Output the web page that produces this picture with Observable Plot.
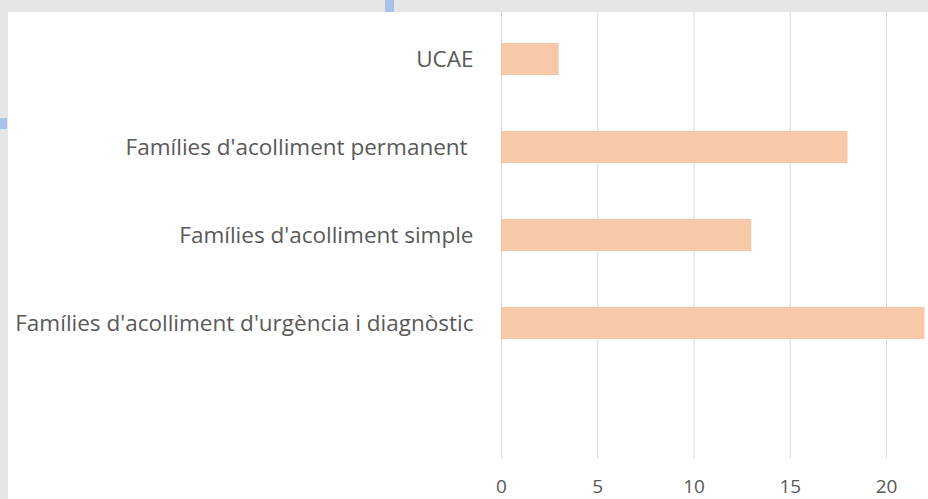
<!DOCTYPE html>
<html>
<head>
<meta charset="utf-8">
<script src="https://cdn.jsdelivr.net/npm/d3@7"></script>
<script src="https://cdn.jsdelivr.net/npm/@observablehq/plot@0.6"></script>
<style>
  html, body { margin: 0; padding: 0; }
  #page { position: relative; width: 928px; height: 499px; background: #e6e6e6; overflow: hidden; }
  #card { position: absolute; left: 8px; top: 12px; width: 920px; height: 487px; background: #fff; }
  #card svg { display: block; background: #fff; }
  #card svg g[aria-label="y-axis tick label"] { font-size: 22.5px; }
  #card svg g[aria-label="x-axis tick label"] { font-size: 19px; }
  .tab { position: absolute; background: #a9c1e8; }
</style>
</head>
<body>
<div id="page">
  <div class="tab" style="left:385px;top:0;width:9px;height:12px"></div>
  <div class="tab" style="left:0;top:118px;width:7px;height:11px"></div>
  <div id="card"></div>
</div>
<script>
const categories = [
  "UCAE",
  "Famílies d'acolliment permanent\u00a0",
  "Famílies d'acolliment simple",
  "Famílies d'acolliment d'urgència i diagnòstic"
];
const values = [3, 18, 13, 22];
const xTicks = [0, 5, 10, 15, 20];

const data = categories.map((c, i) => ({category: c, value: values[i]}));

const chart = Plot.plot({
  width: 920,
  height: 487,
  marginLeft: 493,
  marginRight: 3.5,
  marginTop: 0,
  marginBottom: 41,
  style: {fontFamily: "'Open Sans', sans-serif", fontSize: "20px", color: "#595959", background: "#fff"},
  x: {domain: [0, 22], ticks: xTicks, tickSize: 0, tickPadding: 21, label: null},
  y: {domain: categories, range: [1.75, 355.75], paddingInner: 0.636, paddingOuter: 0.318, tickSize: 0, tickPadding: 28, label: null},
  marks: [
    Plot.ruleX(xTicks, {stroke: "#d9d9d9", strokeWidth: 1}),
    Plot.barX(data, {y: "category", x: "value", fill: "#f8c9a8"})
  ]
});
document.getElementById("card").appendChild(chart);
</script>
</body>
</html>
